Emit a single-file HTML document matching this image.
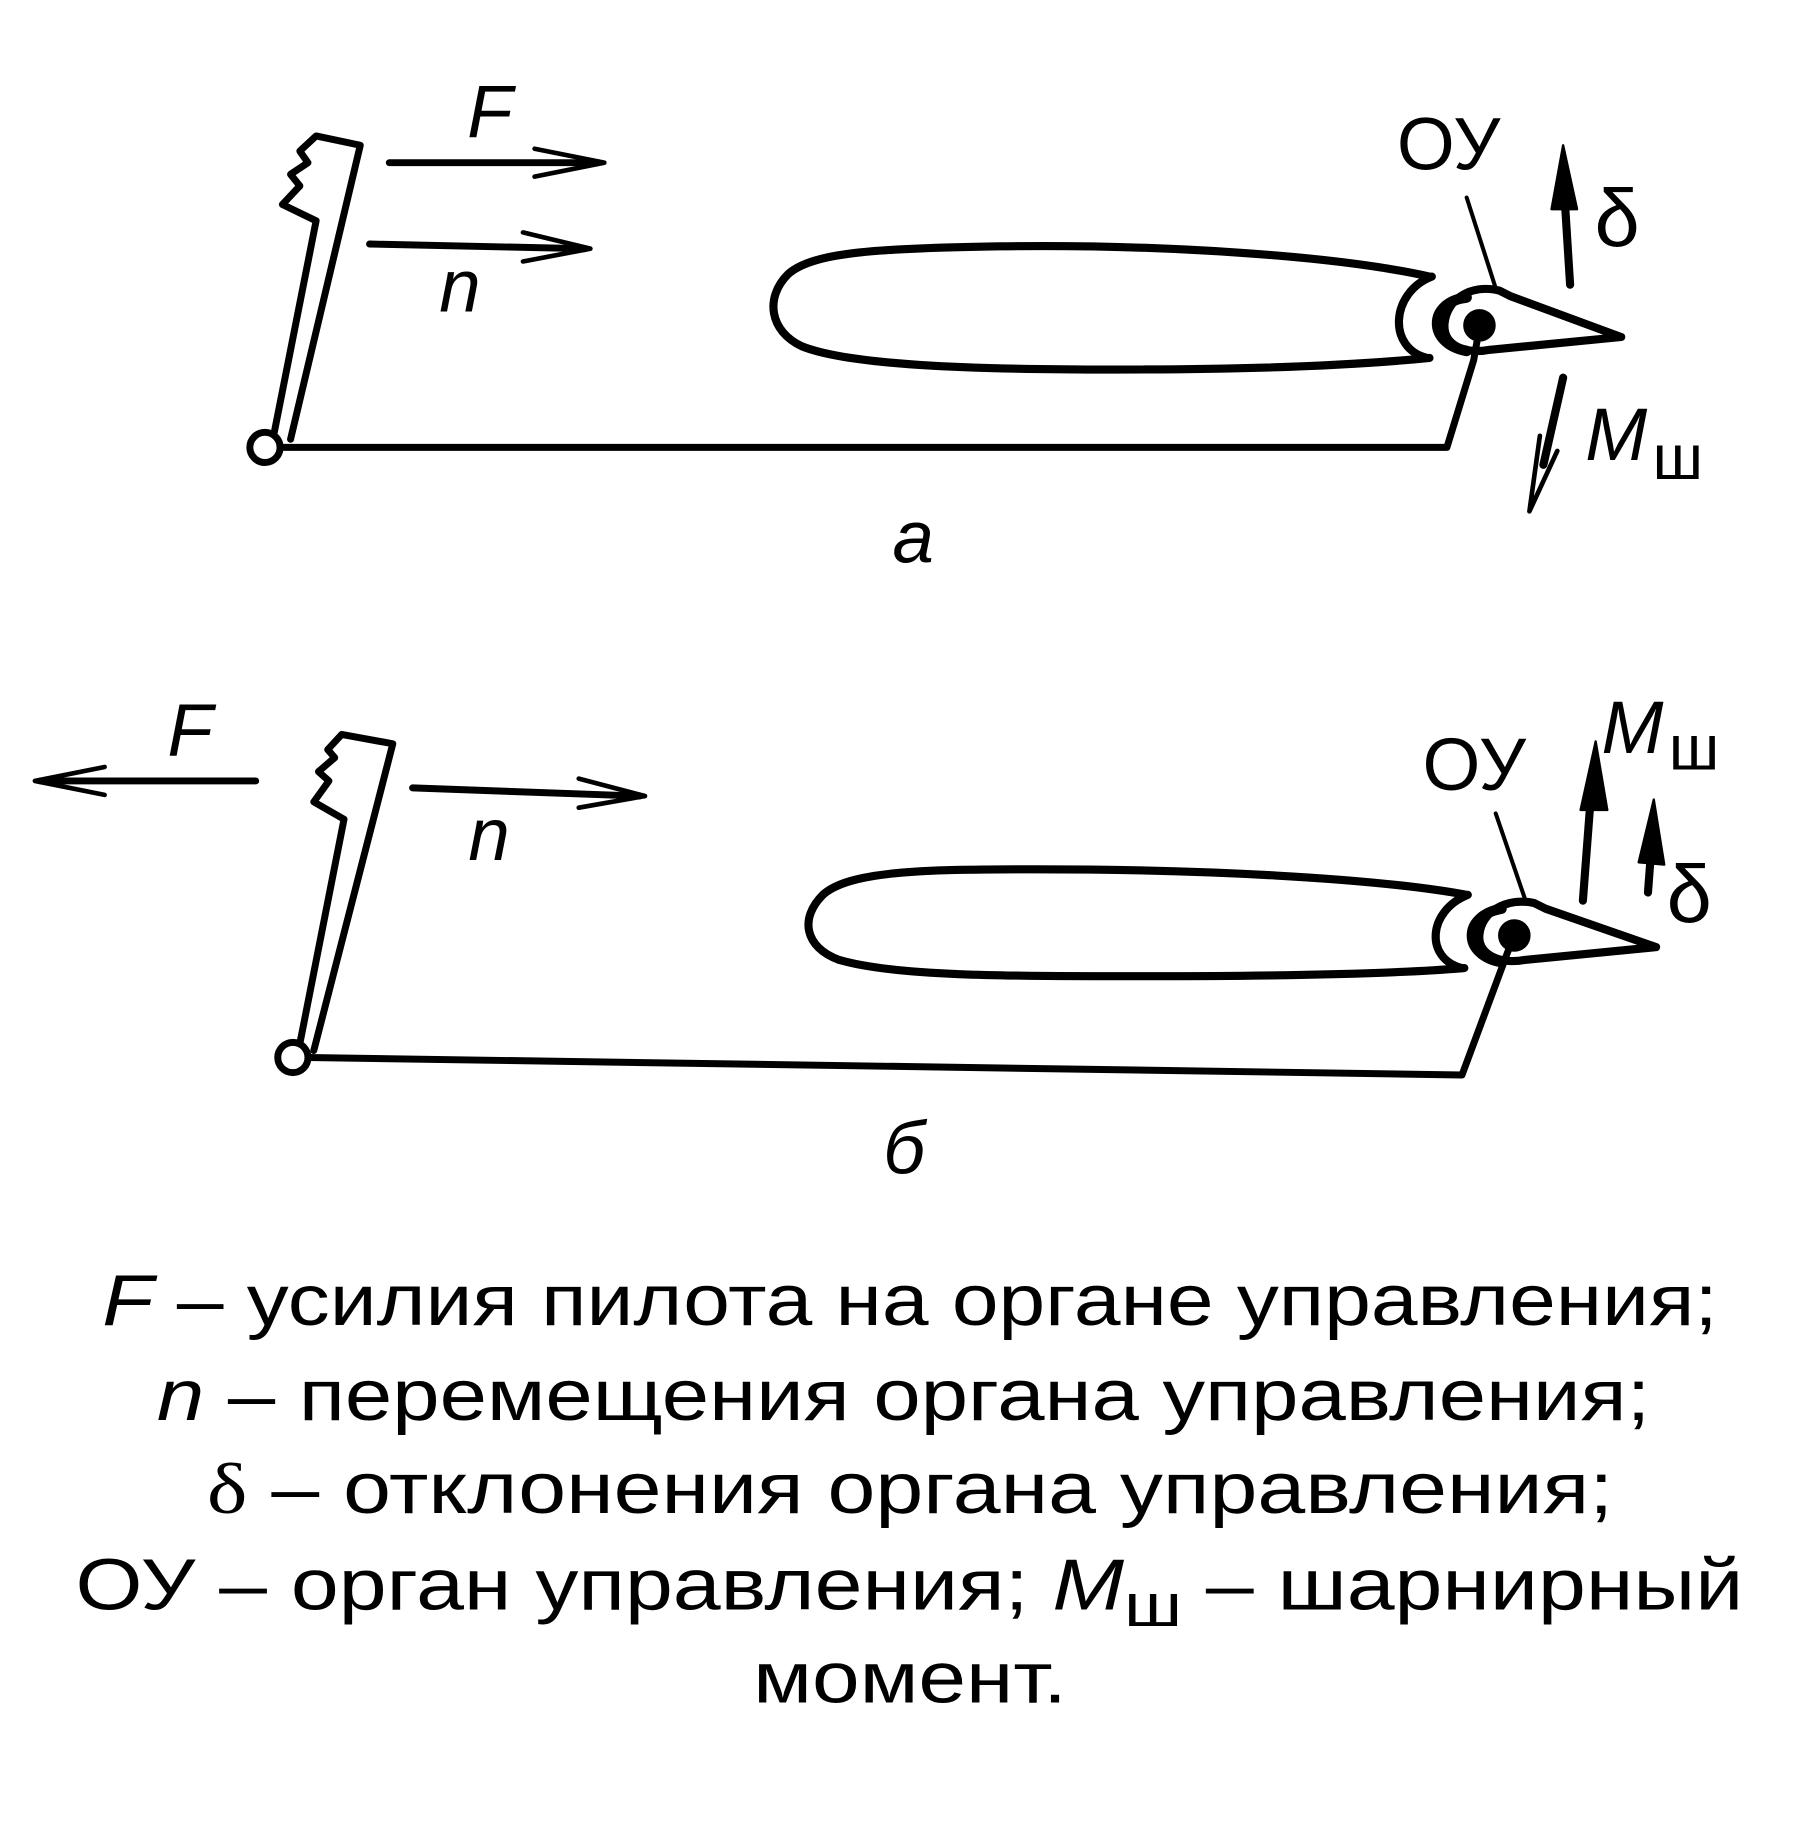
<!DOCTYPE html>
<html><head><meta charset="utf-8"><style>
html,body{margin:0;padding:0;background:#fff;width:1813px;height:1828px;overflow:hidden}
svg{display:block}
text{font-family:"Liberation Sans","DejaVu Sans",sans-serif;fill:#000}
</style></head><body>
<svg width="1813" height="1828" viewBox="0 0 1560 1573" preserveAspectRatio="none" xmlns="http://www.w3.org/2000/svg">
<g fill="none" stroke="#000" stroke-width="6" stroke-linejoin="round" stroke-linecap="round">
<!-- Diagram a -->
<path d="M236,372 L272,190 L243,176 L258,160 L250,150 L265,140 L258,130 L272,117 L310,125 L250,378"/>
<circle cx="228" cy="385" r="13" fill="#fff"/>
<path d="M241,385 L1245,385 L1268,310 L1273,282"/>
<path d="M335,140 L515,140"/>
<path d="M460,128 L520,140 L460,152" stroke-width="4"/>
<path d="M318,210 L503,214"/>
<path d="M450,200 L508,214 L450,225" stroke-width="4"/>
<path d="M1230,238 C1150,220 1000,210 860,212 C760,214 700,216 678,236 C658,256 662,285 690,298 C730,314 830,318 960,318 C1080,318 1170,314 1230,308" stroke-width="7"/>
<path d="M1232,238 C1196,252 1194,300 1228,308" stroke-width="7"/>
<path d="M1290,250 C1265,244 1245,258 1243,278 C1241,298 1262,305 1282,301 L1395,290 L1300,255 Z" stroke-width="7"/>
<path d="M1262,302 C1228,296 1228,260 1262,256" stroke-width="9"/>
<circle cx="1273" cy="280" r="11" fill="#000"/>
<path d="M1262,170 L1287,248" stroke-width="3.5"/>
<path d="M1351,245 L1345,150" stroke-width="7"/>
<path d="M1335,180 L1345,125 L1357,180 Z" fill="#000" stroke-width="2"/>
<path d="M1345,325 L1328,400" stroke-width="7"/>
<path d="M1325,375 L1316,440 L1340,388" stroke-width="4"/>

<!-- Diagram b -->
<path d="M258,898 L296,705 L270,690 L283,672 L274,664 L288,652 L282,645 L294,632 L338,640 L270,904"/>
<circle cx="252" cy="910" r="13" fill="#fff"/>
<path d="M265,910 L1258,925 L1297,820 L1303,805"/>
<path d="M220,672 L35,672"/>
<path d="M90,660 L30,672 L90,684" stroke-width="4"/>
<path d="M355,678 L550,685"/>
<path d="M498,670 L555,685 L498,695" stroke-width="4"/>
<path d="M1262,770 C1180,755 1030,748 890,748 C790,748 730,750 708,770 C688,790 692,815 722,826 C770,840 860,840 990,840 C1110,840 1200,838 1260,833" stroke-width="7"/>
<path d="M1263,770 C1228,784 1226,825 1258,833" stroke-width="7"/>
<path d="M1320,777 C1295,772 1275,785 1273,804 C1271,822 1292,830 1312,826 L1425,815 L1330,782 Z" stroke-width="7"/>
<path d="M1292,828 C1258,822 1258,788 1292,782" stroke-width="9"/>
<circle cx="1303" cy="805" r="11" fill="#000"/>
<path d="M1287,700 L1312,773" stroke-width="3.5"/>
<path d="M1362,775 L1370,670" stroke-width="7"/>
<path d="M1360,697 L1373,638 L1383,697 Z" fill="#000" stroke-width="2"/>
<path d="M1418,768 L1422,715" stroke-width="7"/>
<path d="M1410,742 L1423,688 L1432,744 Z" fill="#000" stroke-width="2"/>
</g>
<g font-size="64">
<text x="402" y="118" font-style="italic">F</text>
<text x="378" y="268" font-style="italic">n</text>
<text x="1202" y="146">ОУ</text>
<text x="1372" y="212" font-family="Liberation Serif,serif" font-size="70">δ</text>
<text x="1364" y="396" font-style="italic">M</text>
<text x="1422" y="412" font-size="54">ш</text>
<text x="768" y="484" font-style="italic">a</text>

<text x="144" y="650" font-style="italic">F</text>
<text x="403" y="740" font-style="italic">n</text>
<text x="1224" y="680">ОУ</text>
<text x="1378" y="648" font-style="italic">M</text>
<text x="1436" y="662" font-size="54">ш</text>
<text x="1434" y="794" font-family="Liberation Serif,serif" font-size="70">δ</text>
<text x="760" y="1010" font-style="italic">б</text>
</g>
<g font-size="62">
<text x="88" y="1140" textLength="1390" lengthAdjust="spacingAndGlyphs"><tspan font-style="italic">F</tspan> – усилия пилота на органе управления;</text>
<text x="135" y="1222" textLength="1285" lengthAdjust="spacingAndGlyphs"><tspan font-style="italic">n</tspan> – перемещения органа управления;</text>
<text x="178" y="1302" textLength="1210" lengthAdjust="spacingAndGlyphs"><tspan font-family="Liberation Serif,serif">δ</tspan> – отклонения органа управления;</text>
<text x="65" y="1385" textLength="1435" lengthAdjust="spacingAndGlyphs">ОУ – орган управления; <tspan font-style="italic">M</tspan><tspan dy="14" font-size="52">ш</tspan><tspan dy="-14"> – шарнирный</tspan></text>
<text x="648" y="1465" textLength="270" lengthAdjust="spacingAndGlyphs">момент.</text>
</g>
</svg>
</body></html>
